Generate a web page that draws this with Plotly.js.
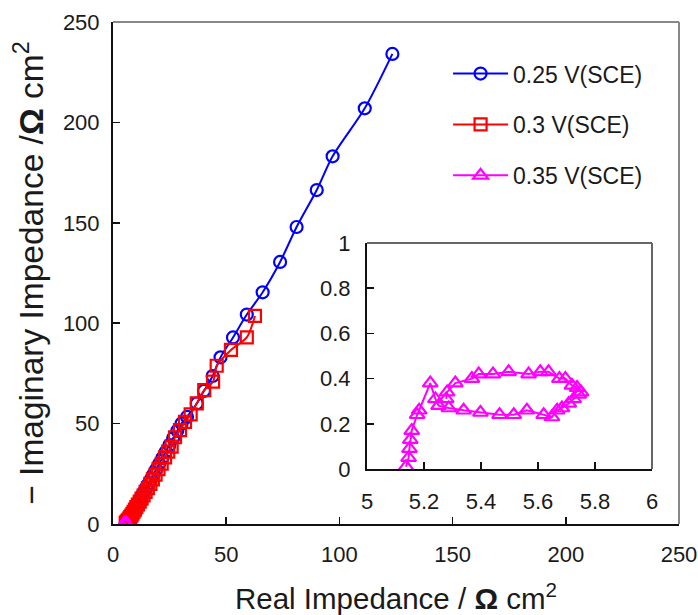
<!DOCTYPE html>
<html>
<head>
<meta charset="utf-8">
<script src="https://cdn.plot.ly/plotly-3.0.1.min.js"></script>
<style>html,body{margin:0;padding:0;background:#fff;}#chart{width:698px;height:615px;}</style>
</head>
<body>
<div id="chart"></div>
<script>
// ---- data ----
const seriesNames = ['0.25 V(SCE)', '0.3 V(SCE)', '0.35 V(SCE)'];

const realZ_025 = [5.7,5.9,6.1,6.3,6.6,6.9,7.2,7.6,8.0,8.5,9.0,9.5,10.1,10.7,11.4,12.1,12.9,13.8,14.7,15.7,16.8,17.9,19.1,20.4,21.8,23.3,24.9,26.6,28.4,30.3,32.7,37.0,40.2,44.0,47.5,53.0,59.1,66.1,73.8,81.1,90.0,97.0,111.2,123.4];
const imagZ_025 = [0.5,0.8,1.2,1.6,2.1,2.7,3.3,4.0,4.8,5.6,6.6,7.6,8.8,10.0,11.4,12.9,14.5,16.3,18.2,20.2,22.4,24.8,27.3,30.0,32.9,36.0,39.3,42.8,46.4,50.1,53.3,60.0,66.3,73.7,83.0,92.9,104.3,115.4,130.5,147.9,166.3,183.1,207.0,234.1];

const realZ_030 = [5.6,5.8,6.1,6.4,6.8,7.2,7.6,8.1,8.6,9.1,9.7,10.3,11.0,11.8,12.6,13.5,14.4,15.4,16.5,17.6,18.8,20.1,21.5,23.0,24.4,25.9,27.4,29.6,31.8,34.3,37.0,40.3,44.2,45.8,52.1,59.1,62.7];
const imagZ_030 = [0.4,0.7,1.1,1.6,2.1,2.7,3.4,4.2,5.1,6.1,7.2,8.4,9.7,11.1,12.6,14.2,16.0,17.9,20.0,22.2,24.6,27.3,30.0,33.2,36.0,38.5,43.2,46.8,50.9,54.6,60.1,66.7,70.9,78.8,86.7,92.9,103.6];

const realZ_035 = [5.137,5.146,5.149,5.152,5.157,5.176,5.183,5.222,5.240,5.251,5.287,5.339,5.398,5.465,5.515,5.561,5.620,5.649,5.667,5.684,5.708,5.725,5.743,5.751,5.737,5.719,5.696,5.675,5.637,5.608,5.567,5.497,5.442,5.392,5.368,5.310,5.281,5.278];
const imagZ_035 = [0.01,0.05,0.09,0.13,0.17,0.24,0.26,0.38,0.31,0.28,0.27,0.26,0.25,0.24,0.24,0.26,0.24,0.23,0.26,0.27,0.29,0.31,0.33,0.34,0.36,0.37,0.40,0.40,0.43,0.43,0.42,0.43,0.42,0.42,0.40,0.38,0.34,0.31];

const mainTickVals = [0, 50, 100, 150, 200, 250];
const insetXTicks = [5, 5.2, 5.4, 5.6, 5.8, 6];
const insetYTicks = [0, 0.2, 0.4, 0.6, 0.8, 1];

// ---- styling ----
const FONT = 'Liberation Sans, Arial, sans-serif';
const TXT = '#1a1a1a';
const colors = ['#0000ff', '#ff0000', '#ff00ff'];

const traces = [
  {x: realZ_025, y: imagZ_025, name: seriesNames[0], type: 'scatter', mode: 'lines+markers',
   legendgroup: 'a', line: {color: colors[0], width: 2, shape: 'spline', smoothing: 0.8},
   marker: {symbol: 'circle-open', size: 12, color: colors[0], line: {width: 2.2, color: colors[0]}},
   xaxis: 'x', yaxis: 'y'},
  {x: realZ_030, y: imagZ_030, name: seriesNames[1], type: 'scatter', mode: 'lines+markers',
   legendgroup: 'b', line: {color: colors[1], width: 2, shape: 'spline', smoothing: 0.8},
   marker: {symbol: 'square-open', size: 12, color: colors[1], line: {width: 2.2, color: colors[1]}},
   xaxis: 'x', yaxis: 'y'},
  {x: realZ_035, y: imagZ_035, name: seriesNames[2], type: 'scatter', mode: 'lines+markers',
   legendgroup: 'c', line: {color: colors[2], width: 2},
   marker: {symbol: 'triangle-up-open', size: 13, color: colors[2], line: {width: 2.2, color: colors[2]}},
   xaxis: 'x', yaxis: 'y'},
  {x: realZ_035, y: imagZ_035, name: seriesNames[2], type: 'scatter', mode: 'lines+markers',
   showlegend: false, line: {color: colors[2], width: 2},
   marker: {symbol: 'triangle-up-open', size: 13, color: colors[2], line: {width: 2.2, color: colors[2]}},
   xaxis: 'x2', yaxis: 'y2'}
];

const L = 113, R = 19, T = 22, B = 91;
const W = 698 - L - R, H = 615 - T - B;
const inX0 = (367 - L) / W, inX1 = (652 - L) / W;
const inY0 = (524 - 469) / H, inY1 = (524 - 243) / H;

const axCommon = {
  showgrid: false, zeroline: false, showline: true, linecolor: '#111', linewidth: 2,
  ticks: 'inside', ticklen: 7, tickwidth: 1.5, tickcolor: '#111',
  tickfont: {family: FONT, size: 22, color: TXT}, mirror: false
};

const layout = {
  width: 698, height: 615,
  margin: {l: L, r: R, t: T, b: B},
  paper_bgcolor: '#fff', plot_bgcolor: '#fff',
  font: {family: FONT, color: TXT},
  showlegend: true,
  legend: {x: 0.592, y: 0.94, xanchor: 'left', yanchor: 'top', bgcolor: 'rgba(0,0,0,0)',
           font: {family: FONT, size: 23, color: TXT}, itemwidth: 55, tracegroupgap: 18},
  xaxis: Object.assign({}, axCommon, {
    range: [0, 250], tickvals: mainTickVals, domain: [0, 1], anchor: 'y', ticklabelstandoff: 10,
    title: {text: 'Real Impedance / <b>Ω</b> cm<sup>2</sup>', font: {family: FONT, size: 29.5, color: TXT}, standoff: 22}
  }),
  yaxis: Object.assign({}, axCommon, {
    range: [0, 250], tickvals: mainTickVals, domain: [0, 1], anchor: 'x', ticklabelstandoff: 7,
    title: {text: '− Imaginary Impedance /<b>Ω</b> cm<sup>2</sup>', font: {family: FONT, size: 33.5, color: TXT}, standoff: 9}
  }),
  xaxis2: Object.assign({}, axCommon, {
    range: [5, 6], tickvals: insetXTicks, domain: [inX0, inX1], anchor: 'y2', ticklabelstandoff: 12
  }),
  yaxis2: Object.assign({}, axCommon, {
    range: [0, 1], tickvals: insetYTicks, domain: [inY0, inY1], anchor: 'x2', ticklabelstandoff: 10
  }),
  shapes: [
    {type: 'line', xref: 'paper', yref: 'paper', x0: 0, x1: 1, y0: 1, y1: 1, line: {color: '#888', width: 2}},
    {type: 'line', xref: 'paper', yref: 'paper', x0: 1, x1: 1, y0: 0, y1: 1, line: {color: '#888', width: 2}},
    {type: 'line', xref: 'paper', yref: 'paper', x0: inX0, x1: inX1, y0: inY1, y1: inY1, line: {color: '#666', width: 2}},
    {type: 'line', xref: 'paper', yref: 'paper', x0: inX1, x1: inX1, y0: inY0, y1: inY1, line: {color: '#666', width: 2}}
  ]
};

Plotly.newPlot('chart', traces, layout, {displayModeBar: false, staticPlot: true});
</script>
</body>
</html>
